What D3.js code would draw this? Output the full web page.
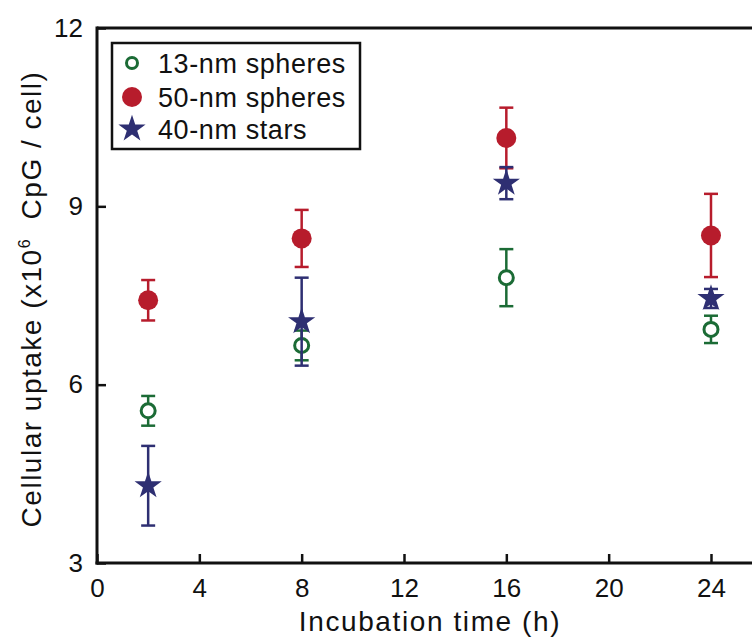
<!DOCTYPE html>
<html>
<head>
<meta charset="utf-8">
<script src="https://cdn.jsdelivr.net/npm/d3@7"></script>
<style>
  html, body { margin: 0; padding: 0; background: #fff; }
  svg text { font-family: "Liberation Sans", Arial, Helvetica, sans-serif; fill: #111; }
</style>
</head>
<body>
<svg id="chart" width="752" height="639"></svg>
<script>
const times = [2, 8, 16, 24];
const seriesNames = ["13-nm spheres", "50-nm spheres", "40-nm stars"];
const spheres13 = [5.56, 6.66, 7.80, 6.93];
const spheres13Err = [0.25, 0.25, 0.48, 0.23];
const spheres50 = [7.42, 8.46, 10.15, 8.51];
const spheres50Err = [0.34, 0.48, 0.51, 0.70];
const stars40 = [4.30, 7.06, 9.39, 7.45];
const stars40Err = [0.67, 0.74, 0.27, 0.16];
const xTicks = [0, 4, 8, 12, 16, 20, 24];
const yTicks = [3, 6, 9, 12];

const colors = ["#1b6b35", "#b71c2c", "#2e2f72"];

const svg = d3.select("#chart");
const x = d3.scaleLinear().domain([0, 28]).range([97, 97 + 28 * 25.583]);
const y = d3.scaleLinear().domain([3, 12]).range([563, 28]);

// Axes with inward ticks
const xAxis = d3.axisBottom(x).tickValues(xTicks).tickSize(-9).tickPadding(16).tickFormat(d3.format("d"));
const yAxis = d3.axisLeft(y).tickValues(yTicks).tickSize(-9).tickPadding(14).tickFormat(d3.format("d"));

const gx = svg.append("g").attr("transform", `translate(0,${y(3)})`).call(xAxis);
const gy = svg.append("g").attr("transform", `translate(${x(0)},0)`).call(yAxis);
[gx, gy].forEach(g => {
  g.select(".domain").remove();
  g.selectAll(".tick line").attr("stroke", "#111").attr("stroke-width", 2.5);
  g.selectAll(".tick text").attr("font-size", 26).attr("fill", "#111");
});
gx.selectAll(".tick text").attr("dy", "0.71em");

// Frame lines (top, left, bottom)
svg.append("line").attr("x1", x(0)).attr("x2", 752).attr("y1", y(12)).attr("y2", y(12))
  .attr("stroke", "#111").attr("stroke-width", 3);
svg.append("line").attr("x1", x(0)).attr("x2", x(0)).attr("y1", y(12) - 1.5).attr("y2", y(3) + 1.5)
  .attr("stroke", "#111").attr("stroke-width", 3);
svg.append("line").attr("x1", x(0) - 1.5).attr("x2", 752).attr("y1", y(3)).attr("y2", y(3))
  .attr("stroke", "#111").attr("stroke-width", 3);

// Axis titles
svg.append("text")
  .attr("x", 430).attr("y", 631)
  .attr("text-anchor", "middle")
  .attr("font-size", 28).attr("letter-spacing", 1.6)
  .text("Incubation time (h)");

const yt = svg.append("text")
  .attr("transform", "translate(41,299) rotate(-90)")
  .attr("text-anchor", "middle")
  .attr("font-size", 28).attr("letter-spacing", 1.5);
yt.append("tspan").text("Cellular uptake (x10");
yt.append("tspan").attr("font-size", 16).attr("dy", -11).text("6");
yt.append("tspan").attr("dy", 11).text("\u00a0 CpG / cell)");

// Data
const series = [
  { name: seriesNames[0], vals: spheres13, errs: spheres13Err, color: colors[0], type: "open" },
  { name: seriesNames[1], vals: spheres50, errs: spheres50Err, color: colors[1], type: "filled" },
  { name: seriesNames[2], vals: stars40, errs: stars40Err, color: colors[2], type: "star" }
];

const starPath = d3.symbol().type(d3.symbolStar).size(230)();
const capHalf = 7;

function drawMarker(g, s, cx, cy, legend) {
  if (s.type === "open") {
    g.append("circle").attr("cx", cx).attr("cy", cy).attr("r", legend ? 5.5 : 7)
      .attr("fill", "#fff").attr("stroke", s.color).attr("stroke-width", 3);
  } else if (s.type === "filled") {
    g.append("circle").attr("cx", cx).attr("cy", cy).attr("r", 10)
      .attr("fill", s.color);
  } else {
    g.append("path").attr("d", starPath).attr("transform", `translate(${cx},${cy})`)
      .attr("fill", s.color);
  }
}

series.forEach(s => {
  const g = svg.append("g");
  times.forEach((t, i) => {
    const cx = x(t);
    const y1 = y(s.vals[i] + s.errs[i]);
    const y0 = y(s.vals[i] - s.errs[i]);
    g.append("line").attr("x1", cx).attr("x2", cx).attr("y1", y1).attr("y2", y0)
      .attr("stroke", s.color).attr("stroke-width", 2.5);
    [y0, y1].forEach(yy => {
      g.append("line").attr("x1", cx - capHalf).attr("x2", cx + capHalf).attr("y1", yy).attr("y2", yy)
        .attr("stroke", s.color).attr("stroke-width", 2.5);
    });
    drawMarker(g, s, cx, y(s.vals[i]), false);
  });
});

// Legend
const lg = svg.append("g");
lg.append("rect").attr("x", 112).attr("y", 43).attr("width", 248).attr("height", 106)
  .attr("fill", "#fff").attr("stroke", "#111").attr("stroke-width", 2.5);
const legendYs = [63, 97, 129];
series.forEach((s, i) => {
  drawMarker(lg, s, 132, legendYs[i], true);
  lg.append("text").attr("x", 158).attr("y", legendYs[i]).attr("dy", "0.36em")
    .attr("font-size", 27).attr("letter-spacing", 0.6)
    .text(s.name);
});
</script>
</body>
</html>
